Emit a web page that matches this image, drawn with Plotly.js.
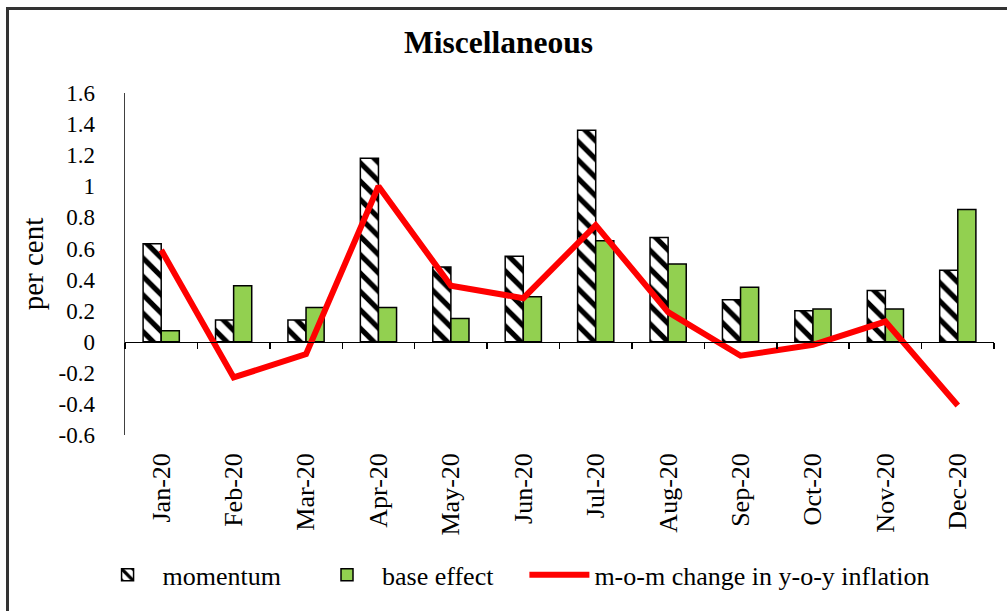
<!DOCTYPE html>
<html>
<head>
<meta charset="utf-8">
<script src="https://cdn.plot.ly/plotly-3.0.1.min.js"></script>
<style>
  body { margin: 0; background: #fff; }
  #wrap { position: relative; width: 1007px; height: 611px; overflow: hidden; }
  #chart { position: absolute; left: 0; top: 0; width: 1007px; height: 611px; }
  #frame { position: absolute; left: 6px; top: 7px; width: 1100px; height: 700px;
           border-left: 3px solid #333; border-top: 3px solid #333; pointer-events: none; }
</style>
</head>
<body>
<div id="wrap">
  <div id="chart"></div>
  <div id="frame"></div>
</div>
<script>
// months on the category axis
const months = ["Jan-20", "Feb-20", "Mar-20", "Apr-20", "May-20", "Jun-20",
                "Jul-20", "Aug-20", "Sep-20", "Oct-20", "Nov-20", "Dec-20"];
const momentum   = [0.63, 0.14, 0.14, 1.18, 0.48, 0.55, 1.36, 0.67, 0.27, 0.20, 0.33, 0.46];
const baseEffect = [0.07, 0.36, 0.22, 0.22, 0.15, 0.29, 0.65, 0.50, 0.35, 0.21, 0.21, 0.85];
const momChange  = [0.59, -0.23, -0.08, 1.00, 0.36, 0.28, 0.75, 0.19, -0.09, -0.02, 0.13, -0.41];

const yTicks = [1.6, 1.4, 1.2, 1, 0.8, 0.6, 0.4, 0.2, 0, -0.2, -0.4, -0.6];

var serif = "Liberation Serif";
var pad = "\u00a0\u00a0\u00a0\u00a0"; // extra room between legend entries

var trace1 = {
  x: months,
  y: momentum,
  type: "bar",
  name: "momentum" + pad,
  marker: {
    color: "white",
    line: { color: "black", width: 1.5 },
    pattern: { shape: "\\", fgcolor: "black", bgcolor: "white", size: 13, solidity: 0.4 }
  }
};

var trace2 = {
  x: months,
  y: baseEffect,
  type: "bar",
  name: "base effect" + pad,
  marker: {
    color: "#92D050",
    line: { color: "black", width: 1.5 }
  }
};

var trace3 = {
  x: months,
  y: momChange,
  xaxis: "x2",
  type: "scatter",
  mode: "lines",
  name: "m-o-m change in y-o-y inflation",
  line: { color: "#FF0000", width: 6 }
};

var layout = {
  width: 1007,
  height: 611,
  margin: { l: 125, r: 13, t: 93, b: 176 },
  paper_bgcolor: "white",
  plot_bgcolor: "white",
  font: { family: serif, size: 24, color: "black" },
  title: {
    text: "<b>Miscellaneous</b>",
    font: { family: serif, size: 31.5, color: "black" },
    xref: "container", x: 0.495,
    yref: "container", y: 0.932, yanchor: "middle"
  },
  barmode: "group",
  bargap: 0.5,
  bargroupgap: 0,
  showlegend: true,
  legend: {
    orientation: "h",
    xref: "container", x: 0.51, xanchor: "center",
    yref: "container", y: 0.059, yanchor: "middle",
    itemwidth: 60,
    font: { family: serif, size: 26, color: "black" },
    traceorder: "normal"
  },
  xaxis: {
    type: "category",
    range: [-0.5, 11.5],
    anchor: "free",
    position: 0.6 / 2.2,
    showline: true,
    linecolor: "black",
    linewidth: 1.5,
    ticks: "outside",
    tickson: "boundaries",
    ticklen: 6,
    tickcolor: "black",
    tickwidth: 1.5,
    showticklabels: false,
    showgrid: false,
    zeroline: false
  },
  xaxis2: {
    type: "category",
    overlaying: "x",
    anchor: "y",
    side: "bottom",
    range: [-0.5, 11.5],
    showline: false,
    ticks: "",
    tickangle: -90,
    ticklabelstandoff: 12,
    tickfont: { family: serif, size: 26, color: "black" },
    showgrid: false,
    zeroline: false
  },
  yaxis: {
    range: [-0.6, 1.6],
    tickvals: yTicks,
    ticktext: yTicks.map(function (v) { return String(v); }),
    ticks: "",
    ticklabelstandoff: 24,
    tickfont: { family: serif, size: 23, color: "black" },
    showline: true,
    linecolor: "#404040",
    linewidth: 1.5,
    showgrid: false,
    zeroline: false,
    title: { text: "per cent", standoff: 6, font: { family: serif, size: 29, color: "black" } }
  }
};

Plotly.newPlot("chart", [trace1, trace2, trace3], layout, { staticPlot: true });
</script>
</body>
</html>
